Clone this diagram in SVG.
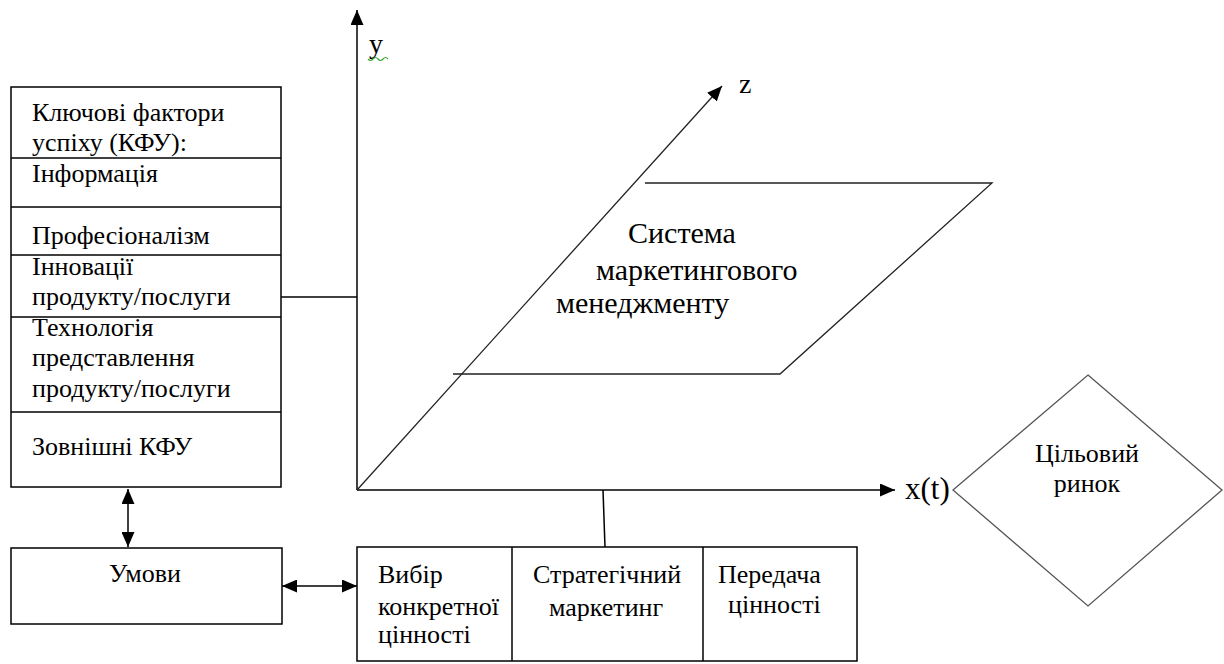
<svg xmlns="http://www.w3.org/2000/svg" width="1224" height="664" viewBox="0 0 1224 664" font-family="Liberation Serif, Times New Roman, DejaVu Serif, serif">
<style>
.box{fill:#fff;stroke:#000;stroke-width:1.5}
.ln{fill:none;stroke:#000;stroke-width:1.5}
.thin{fill:none;stroke:#222;stroke-width:1.3}
.dia{fill:#fff;stroke:#555;stroke-width:1.3}
.t26{font-size:26px}
.t28{font-size:28px}
.t30{font-size:30px}
.tx{font-size:31px}
</style>
<defs>
<marker id="ah" viewBox="0 0 15 13" refX="15" refY="6.5" markerWidth="15" markerHeight="13" markerUnits="userSpaceOnUse" orient="auto-start-reverse">
<path d="M0,0 L15,6.5 L0,13 Z" fill="#000"/>
</marker>
</defs>

<g id="connectors">
<line class="ln" x1="357" y1="490" x2="357" y2="10" marker-end="url(#ah)"/>
<line class="ln" x1="357" y1="490" x2="895" y2="490" marker-end="url(#ah)"/>
<line class="thin" x1="357" y1="490" x2="722" y2="86" marker-end="url(#ah)"/>
<line class="ln" x1="281" y1="297" x2="357" y2="297"/>
<line class="ln" x1="603" y1="490" x2="605" y2="547"/>
<line class="ln" x1="128" y1="489" x2="128" y2="547" marker-start="url(#ah)" marker-end="url(#ah)"/>
<line class="ln" x1="282" y1="586" x2="357" y2="586" marker-start="url(#ah)" marker-end="url(#ah)"/>
</g>

<g id="axis-labels">
<text class="t28" x="369" y="53">y</text>
<path d="M368,59 q2.5,3 5,0 t5,0 t5,0 t5,0" fill="none" stroke="#3a3" stroke-width="1.2"/>
<text class="t28" x="739" y="93">z</text>
<text class="tx" x="905" y="499">x(t)</text>
</g>

<g id="kfu">
<rect class="box" x="11" y="87" width="270" height="400"/>
<line class="ln" x1="11" y1="158" x2="281" y2="158"/>
<line class="ln" x1="11" y1="207" x2="281" y2="207"/>
<line class="ln" x1="11" y1="255" x2="281" y2="255"/>
<line class="ln" x1="11" y1="317" x2="281" y2="317"/>
<line class="ln" x1="11" y1="412" x2="281" y2="412"/>
<text class="t26" x="32" y="121">Ключові фактори</text>
<text class="t26" x="32" y="151">успіху (КФУ):</text>
<text class="t26" x="32" y="182">Інформація</text>
<text class="t26" x="32" y="244">Професіоналізм</text>
<text class="t26" x="32" y="275">Інновації</text>
<text class="t26" x="32" y="305">продукту/послуги</text>
<text class="t26" x="32" y="336">Технологія</text>
<text class="t26" x="32" y="366">представлення</text>
<text class="t26" x="32" y="397">продукту/послуги</text>
<text class="t26" x="32" y="455">Зовнішні КФУ</text>
</g>

<g id="umovy">
<rect class="box" x="11" y="548" width="271" height="76"/>
<text class="t26" x="145" y="582" text-anchor="middle">Умови</text>
</g>

<g id="system">
<polyline class="thin" points="645,183 992,183 780,374 453,374"/>
<text class="t30" x="628" y="243">Система</text>
<text class="t30" x="596" y="280">маркетингового</text>
<text class="t30" x="556" y="313">менеджменту</text>
</g>

<g id="market">
<polygon class="dia" points="1088,375 1222,490 1088,606 953,490"/>
<text class="t26" x="1087" y="462" text-anchor="middle">Цільовий</text>
<text class="t26" x="1087" y="492" text-anchor="middle">ринок</text>
</g>

<g id="value">
<rect class="box" x="357" y="547" width="500" height="114"/>
<line class="ln" x1="512" y1="547" x2="512" y2="661"/>
<line class="ln" x1="703" y1="547" x2="703" y2="661"/>
<text class="t26" x="378" y="583">Вибір</text>
<text class="t26" x="378" y="615">конкретної</text>
<text class="t26" x="378" y="643">цінності</text>
<text class="t26" x="533" y="583">Стратегічний</text>
<text class="t26" x="549" y="616">маркетинг</text>
<text class="t26" x="718" y="583">Передача</text>
<text class="t26" x="728" y="613">цінності</text>
</g>
</svg>
